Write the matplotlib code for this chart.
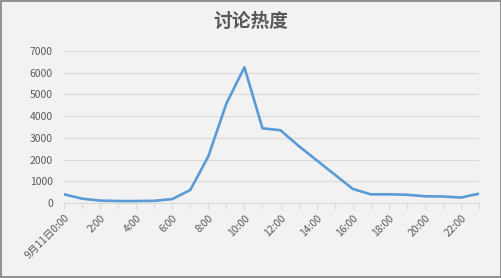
import matplotlib
matplotlib.use("Agg")
import matplotlib.pyplot as plt
from matplotlib.patches import Rectangle

plt.rcParams['font.family'] = ['Noto Sans CJK SC', 'DejaVu Sans']

hours = [f"{h}:00" for h in range(24)]
tick_labels = ["9月11日0:00" if h == 0 else f"{h}:00" for h in range(24)]
heat = [400, 200, 110, 90, 90, 100, 180, 600, 2150, 4580, 6250, 3440, 3350,
        2630, 1970, 1310, 650, 400, 400, 380, 310, 300, 250, 430]
yticks = [0, 1000, 2000, 3000, 4000, 5000, 6000, 7000]

fig = plt.figure(figsize=(5.02, 2.78), dpi=100)
fig.patch.set_facecolor('#f2f2f2')
fig.patches.append(Rectangle((0.001, 0.002), 0.997, 0.995, transform=fig.transFigure,
                             fill=False, edgecolor='#7f7f7f', linewidth=1.2))

ax = fig.add_axes([64/502, 75/278, (479-64)/502, (203-51)/278])
ax.set_facecolor('#f2f2f2')
x = list(range(len(heat)))
ax.plot(x, heat, color='#5b9bd5', linewidth=1.9, solid_joinstyle='round', zorder=3)

ax.set_xlim(0, 23)
ax.set_ylim(0, 7000)
ax.set_yticks(yticks)
ax.set_yticklabels([str(v) for v in yticks], fontsize=7.5, color='#595959')
ax.yaxis.grid(True, color='#d9d9d9', linewidth=0.8)
ax.tick_params(axis='y', length=0, pad=8)

ax.set_xticks(x)
ax.set_xticklabels([lab if i % 2 == 0 else "" for i, lab in enumerate(tick_labels)],
                   rotation=45, ha='right', va='top', rotation_mode='anchor',
                   fontsize=7.5, color='#595959')
ax.tick_params(axis='x', length=4, color='#d9d9d9', width=0.8, pad=3)

for s in ['top', 'right', 'left']:
    ax.spines[s].set_visible(False)
ax.spines['bottom'].set_color('#d9d9d9')
ax.spines['bottom'].set_linewidth(0.8)

fig.text(0.5, 1 - 21/278, "讨论热度", ha='center', va='center', fontsize=13.5,
         fontweight='bold', color='#595959')

fig.savefig('out.png', dpi=100, facecolor=fig.get_facecolor())
